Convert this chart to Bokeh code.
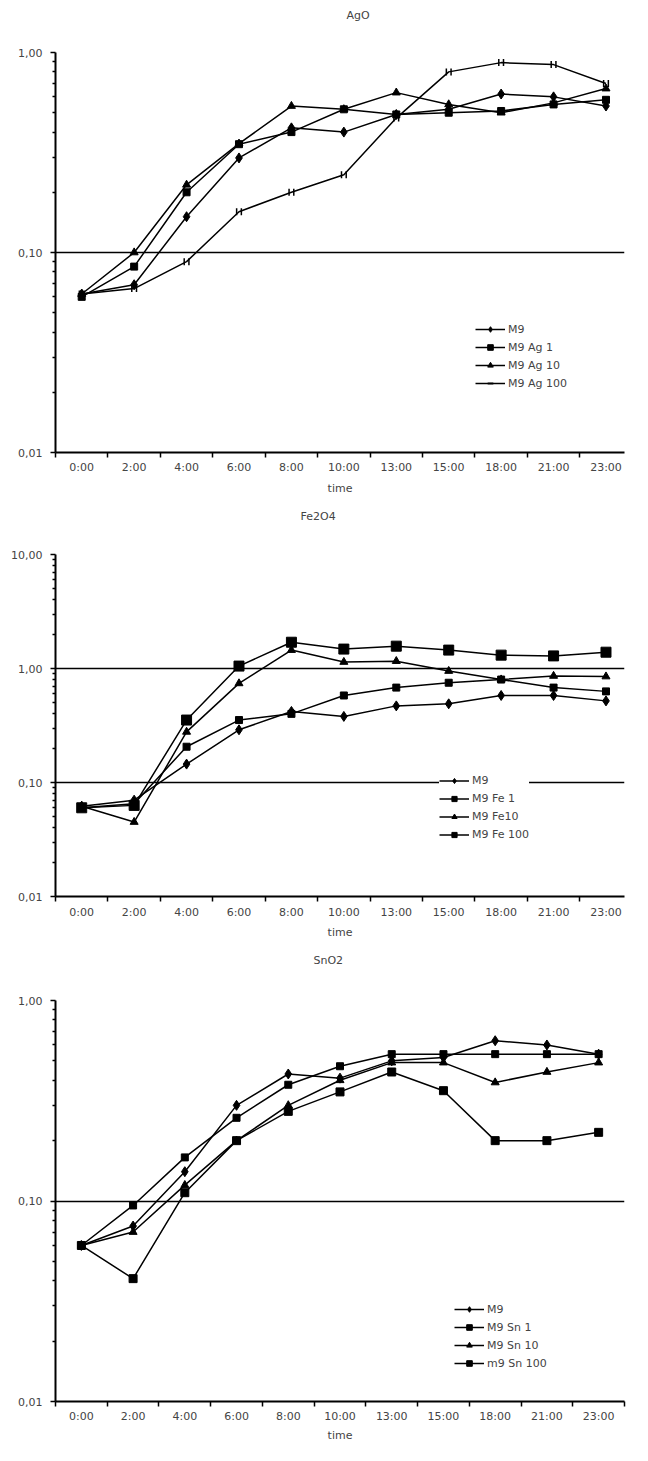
from bokeh.plotting import figure
from bokeh.layouts import column
from bokeh.models import Range1d, FixedTicker, CustomJSTickFormatter, ColumnDataSource, Title
from bokeh.transform import dodge
from bokeh.embed import file_html
from bokeh.resources import INLINE

# ---------------- data ----------------
times = ["0:00", "2:00", "4:00", "6:00", "8:00", "10:00", "13:00", "15:00", "18:00", "21:00", "23:00"]

ago_m9 = [0.062, 0.069, 0.151, 0.297, 0.42, 0.40, 0.49, 0.52, 0.62, 0.60, 0.54]
ago_ag1 = [0.060, 0.085, 0.20, 0.348, 0.40, 0.52, 0.49, 0.50, 0.51, 0.55, 0.58]
ago_ag10 = [0.062, 0.10, 0.218, 0.35, 0.54, 0.52, 0.63, 0.55, 0.50, 0.56, 0.66]
ago_ag100 = [0.062, 0.066, 0.09, 0.16, 0.20, 0.245, 0.47, 0.80, 0.89, 0.87, 0.70]

fe_m9 = [0.062, 0.070, 0.145, 0.29, 0.42, 0.38, 0.47, 0.49, 0.58, 0.58, 0.52]
fe_fe1 = [0.060, 0.065, 0.206, 0.353, 0.40, 0.58, 0.68, 0.75, 0.80, 0.68, 0.63]
fe_fe10 = [0.062, 0.045, 0.278, 0.74, 1.45, 1.14, 1.16, 0.95, 0.80, 0.86, 0.85]
fe_fe100 = [0.060, 0.063, 0.353, 1.05, 1.70, 1.48, 1.57, 1.45, 1.31, 1.29, 1.39]

sn_m9 = [0.060, 0.075, 0.14, 0.30, 0.43, 0.41, 0.50, 0.52, 0.63, 0.60, 0.54]
sn_sn1 = [0.060, 0.095, 0.165, 0.26, 0.38, 0.47, 0.54, 0.54, 0.54, 0.54, 0.54]
sn_sn10 = [0.060, 0.070, 0.12, 0.20, 0.30, 0.40, 0.49, 0.49, 0.39, 0.44, 0.49]
sn_sn100 = [0.060, 0.041, 0.11, 0.20, 0.28, 0.35, 0.44, 0.355, 0.20, 0.20, 0.22]

FONT = "DejaVu Sans"
TXT = "#444444"
FS = "11px"


def make_chart(title, title_offset, title_gap, series, y_end, height,
               b_top, b_bottom, b_left, b_right, x_end, legend_xy, glyph_h, spacing,
               lab_standoff, axlab_standoff):
    p = figure(width=640, height=height, output_backend="svg", toolbar_location=None,
               title=None,
               x_range=Range1d(-0.5, x_end), y_range=Range1d(0.01, y_end),
               y_axis_type="log",
               min_border_top=b_top, min_border_bottom=b_bottom,
               min_border_left=b_left, min_border_right=b_right)
    p.outline_line_color = None
    p.background_fill_color = "white"
    p.border_fill_color = "white"

    # spacer panel next to the frame, then the real title above it
    p.add_layout(Title(text=" ", standoff=title_gap, text_font=FONT, text_font_size=FS), "above")
    p.add_layout(Title(text=title, standoff=4, align="left", offset=title_offset,
                       text_font=FONT, text_font_size=FS, text_font_style="normal",
                       text_color=TXT), "above")

    # y axis (log)
    decades = []
    v = 0.01
    while v <= y_end * 1.0001:
        decades.append(v)
        v *= 10
    minors = [k * d for d in decades[:-1] for k in range(2, 10)]
    yt = FixedTicker(ticks=decades, minor_ticks=minors)
    p.yaxis.ticker = yt
    p.yaxis.formatter = CustomJSTickFormatter(code="return tick.toFixed(2).replace('.', ',')")
    p.yaxis.major_tick_out = 5
    p.yaxis.major_tick_in = 0
    p.yaxis.minor_tick_out = 3
    p.yaxis.minor_tick_in = 0
    p.yaxis.axis_line_width = 2
    p.yaxis.major_tick_line_width = 1.5
    p.yaxis.minor_tick_line_width = 1.5
    p.yaxis.major_label_standoff = 8
    p.yaxis.major_label_text_font = FONT
    p.yaxis.major_label_text_font_size = FS
    p.yaxis.major_label_text_color = TXT

    # x axis (categories between tick marks)
    n = len(times)
    p.xaxis.ticker = FixedTicker(ticks=list(range(n)), minor_ticks=[i - 0.5 for i in range(n + 1)])
    p.xaxis.formatter = CustomJSTickFormatter(args=dict(labels=times),
                                              code="const i = Math.round(tick); return (i >= 0 && i < labels.length) ? labels[i] : '';")
    p.xaxis.major_tick_out = 0
    p.xaxis.major_tick_in = 0
    p.xaxis.minor_tick_out = 5
    p.xaxis.minor_tick_in = 0
    p.xaxis.minor_tick_line_width = 1.5
    p.xaxis.axis_line_width = 2
    p.xaxis.major_label_standoff = lab_standoff
    p.xaxis.major_label_text_font = FONT
    p.xaxis.major_label_text_font_size = FS
    p.xaxis.major_label_text_color = TXT
    p.xaxis.axis_label = "time"
    p.xaxis.axis_label_standoff = axlab_standoff
    p.xaxis.axis_label_text_font = FONT
    p.xaxis.axis_label_text_font_size = FS
    p.xaxis.axis_label_text_font_style = "normal"
    p.xaxis.axis_label_text_color = TXT

    p.xgrid.visible = False
    p.ygrid.ticker = yt
    p.ygrid.grid_line_color = "black"
    p.ygrid.grid_line_width = 1.5

    xs = list(range(n))
    for label, vals, marker, size in series:
        src = ColumnDataSource(dict(x=xs, y=vals))
        p.line("x", "y", source=src, line_color="black", line_width=1.5, legend_label=label)
        if marker == "bars":
            for d in (-0.045, 0.045):
                p.scatter(dodge("x", d), "y", source=src, marker="dash", angle=1.5708,
                          size=size, line_color="black", line_width=1.5, legend_label=label)
        else:
            p.scatter("x", "y", source=src, marker=marker, size=size,
                      fill_color="black", line_color="black", legend_label=label)

    lg = p.legend[0]
    lg.location = legend_xy
    lg.margin = 0
    lg.padding = 4
    lg.spacing = spacing
    lg.glyph_width = 30
    lg.glyph_height = glyph_h
    lg.label_height = glyph_h
    lg.label_standoff = 3
    lg.label_text_font = FONT
    lg.label_text_font_size = FS
    lg.label_text_color = TXT
    lg.border_line_color = None
    lg.background_fill_color = "white"
    lg.background_fill_alpha = 1.0
    return p


p1 = make_chart("AgO", 291, 14,
                [("M9", ago_m9, "diamond", 10), ("M9 Ag 1", ago_ag1, "square", 7),
                 ("M9 Ag 10", ago_ag10, "triangle", 8), ("M9 Ag 100", ago_ag100, "bars", 7)],
                1.0, 498, 52, 46, 55, 0, 10.353, (420, 62), 14, 4, 3, 5)

p2 = make_chart("Fe2O4", 245, 15,
                [("M9", fe_m9, "diamond", 10), ("M9 Fe 1", fe_fe1, "square", 7),
                 ("M9 Fe10", fe_fe10, "triangle", 8), ("M9 Fe 100", fe_fe100, "square", 10)],
                10.0, 444, 56, 46, 55, 0, 10.353, (384, 55), 13, 5, 4, 4)

p3 = make_chart("SnO2", 258, 17,
                [("M9", sn_m9, "diamond", 10), ("M9 Sn 1", sn_sn1, "square", 7),
                 ("M9 Sn 10", sn_sn10, "triangle", 8), ("m9 Sn 100", sn_sn100, "square", 8)],
                1.0, 503, 58, 44, 42, 16, 10.5, (399, 31), 14, 4, 3, 3)

layout = column(p1, p2, p3, spacing=0)
open("out.html", "w").write(file_html(layout, INLINE))
